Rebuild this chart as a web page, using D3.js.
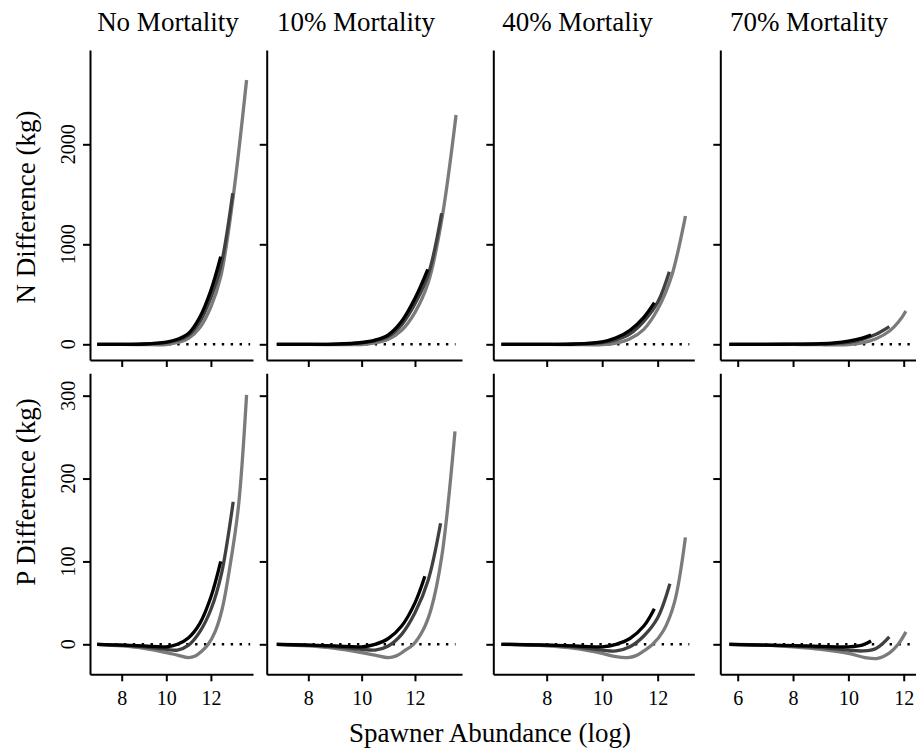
<!DOCTYPE html>
<html>
<head>
<meta charset="utf-8">
<script src="https://cdn.jsdelivr.net/npm/d3@7"></script>
<style>
  html, body { margin: 0; padding: 0; background: #fff; }
  svg { display: block; }
  svg text { font-family: "Liberation Serif", "Times New Roman", "DejaVu Serif", serif; fill: #000; }
</style>
</head>
<body>
<svg id="chart" width="916" height="749"></svg>
<script>
// Column headings (one per mortality scenario)
const panelTitles = ["No Mortality", "10% Mortality", "40% Mortaliy", "70% Mortality"];

// Tick values
const xTicks = [[8, 10, 12], [8, 10, 12], [8, 10, 12], [6, 8, 10, 12]];
const nTicks = [0, 1000, 2000];
const pTicks = [0, 100, 200, 300];

// x extent of each panel (log spawner abundance) and of the zero reference line
const xDomains = [[6.578, 13.888], [6.44, 13.763], [6.076, 13.32], [5.371, 12.444]];
const zeroLine = [[6.9, 13.76], [6.82, 13.52], [6.37, 13.14], [5.7, 12.6]];

// Three curve groups per panel, drawn grey -> dark grey -> black
const curveColors = ["#7b7b7b", "#404040", "#000000"];

// N difference (kg), [log abundance, value] pairs: grey, dark grey, black
const N_NONE = [
  [[6.9,0],[8,-1],[9,-3],[10,-2],[10.5,18],[11,60],[11.5,165],[12,375],[12.44,676],[12.98,1443],[13.6,2643]],
  [[6.9,0],[8,0],[9,2],[10,16],[10.5,40],[11,92],[11.5,225],[12,470],[12.44,776],[12.98,1510]],
  [[6.9,0],[8,0],[9,3],[10,22],[10.5,50],[11,110],[11.5,270],[12,540],[12.44,876]]
];
const N_M10 = [
  [[6.82,0],[8,-1],[9,-3],[10,-2],[10.5,14],[11,50],[11.5,140],[12,320],[12.5,620],[13,1240],[13.54,2293]],
  [[6.82,0],[8,0],[9,2],[10,14],[10.5,34],[11,80],[11.5,195],[12,405],[12.5,700],[13,1310]],
  [[6.82,0],[8,0],[9,2],[10,18],[10.5,42],[11,95],[11.5,230],[12,460],[12.48,750]]
];
const N_M40 = [
  [[6.37,0],[8,-1],[9,-3],[10,-3],[10.5,12],[11,55],[11.5,150],[12,350],[12.5,680],[13,1283]],
  [[6.37,0],[8,0],[9,2],[10,18],[10.5,45],[11,105],[11.5,230],[12,420],[12.42,726]],
  [[6.37,0],[8,0],[9,3],[10,25],[10.5,65],[11,140],[11.5,270],[11.88,416]]
];
const N_M70 = [
  [[5.7,0],[7,0],[8,-1],[9,-4],[9.5,-5],[10,-3],[10.5,15],[11,55],[11.5,135],[11.8,220],[12.08,333]],
  [[5.7,0],[7,0],[8,0],[9,3],[9.5,8],[10,20],[10.5,50],[11,100],[11.48,176]],
  [[5.7,0],[7,0],[8,1],[9,6],[9.5,14],[10,32],[10.5,62],[10.82,93]]
];

// P difference (kg): grey, dark grey, black
const P_NONE = [
  [[6.9,0],[8,-2],[9,-5],[10,-10],[10.5,-13],[11,-16],[11.3,-14],[11.6,-8],[11.88,0],[12.2,16],[12.5,42],[12.83,90],[13.23,165],[13.6,301]],
  [[6.9,0],[8,-1],[9,-3],[10,-6],[10.5,-7],[11,-1],[11.5,15],[12,42],[12.48,86],[13,172]],
  [[6.9,0],[8,-1],[9,-2],[10,-3],[10.5,0],[11,8],[11.5,25],[12,57],[12.44,100]]
];
const P_M10 = [
  [[6.82,0],[8,-2],[9,-5],[10,-10],[10.5,-13],[11,-16],[11.3,-14],[11.6,-8],[11.94,0],[12.3,17],[12.6,42],[13,105],[13.5,257]],
  [[6.82,0],[8,-1],[9,-3],[10,-6],[10.5,-7],[11,-2],[11.5,12],[12,38],[12.5,78],[12.96,146]],
  [[6.82,0],[8,-1],[9,-2],[10,-3],[10.5,0],[11,7],[11.5,22],[12,50],[12.37,82]]
];
const P_M40 = [
  [[6.37,0],[8,-2],[9,-5],[10,-11],[10.5,-15],[10.92,-16],[11.2,-14],[11.5,-8],[11.82,0],[12.2,16],[12.6,50],[13,129]],
  [[6.37,0],[8,-1],[9,-3],[10,-7],[10.5,-8],[11,-3],[11.5,10],[12,32],[12.44,73]],
  [[6.37,0],[8,-1],[9,-2],[10,-3],[10.5,0],[11,7],[11.5,22],[11.88,43]]
];
const P_M70 = [
  [[5.7,0],[7,-1],[8,-3],[9,-6],[10,-11],[10.6,-16],[11.06,-17],[11.5,-10],[11.8,0],[12.08,15]],
  [[5.7,0],[7,-1],[8,-2],[9,-4],[10,-7],[10.52,-8],[11,-5],[11.48,9]],
  [[5.7,0],[7,-1],[8,-1.5],[9,-2.5],[10,-3],[10.5,-1],[10.82,4]]
];

const nPanels = [N_NONE, N_M10, N_M40, N_M70];
const pPanels = [P_NONE, P_M10, P_M40, P_M70];

// ---- layout ----
const FONT = "Liberation Serif, Times New Roman, DejaVu Serif, serif";
const svg = d3.select("#chart");
svg.append("rect").attr("width", 916).attr("height", 749).attr("fill", "#fff");

const colPx = [[90, 253], [266.7, 462], [493.3, 694.3], [720.3, 916]];
const titleX = [168, 356, 577.5, 809];
const rows = [
  { panels: nPanels, ticks: nTicks, domain: [-157, 2943], range: [360, 50], label: "N Difference (kg)", labelY: 207, showX: false },
  { panels: pPanels, ticks: pTicks, domain: [-36.2, 327], range: [674.3, 373.3], label: "P Difference (kg)", labelY: 492, showX: true }
];

rows.forEach((row, r) => {
  const y = d3.scaleLinear().domain(row.domain).range(row.range);

  for (let c = 0; c < 4; c++) {
    const x = d3.scaleLinear().domain(xDomains[c]).range(colPx[c]);
    const line = d3.line().curve(d3.curveCatmullRom.alpha(0.5)).x(d => x(d[0])).y(d => y(d[1]));
    const g = svg.append("g");

    // zero reference line (dotted)
    g.append("path")
      .attr("d", line(zeroLine[c].map(v => [v, 0])))
      .attr("fill", "none").attr("stroke", "#000")
      .attr("stroke-width", 2.4).attr("stroke-dasharray", "2.4 6.5");

    // curves
    row.panels[c].forEach((pts, i) => {
      g.append("path")
        .attr("d", line(pts))
        .attr("fill", "none")
        .attr("stroke", curveColors[i])
        .attr("stroke-width", 3.3)
        .attr("stroke-linecap", "butt");
    });

    // axes
    const yAxis = d3.axisLeft(y).tickValues(row.ticks).tickSize(7).tickSizeOuter(0).tickFormat("");
    const ya = g.append("g").attr("transform", `translate(${colPx[c][0]},0)`).call(yAxis);
    const xAxis = d3.axisBottom(x).tickValues(xTicks[c]).tickSize(7).tickSizeOuter(0).tickPadding(9.5)
      .tickFormat(row.showX ? d3.format("d") : "");
    const xa = g.append("g").attr("transform", `translate(0,${row.range[0]})`).call(xAxis);
    [ya, xa].forEach(a => {
      a.attr("font-family", FONT);
      a.select(".domain").attr("stroke", "#000").attr("stroke-width", 2);
      a.selectAll(".tick line").attr("stroke", "#000").attr("stroke-width", 2);
    });
    xa.selectAll(".tick text")
      .attr("font-size", 20).attr("fill", "#000")
      .attr("font-family", FONT);

    // y tick labels on the first column, rotated as in base graphics
    if (c === 0) {
      g.selectAll(".ylab").data(row.ticks).join("text")
        .attr("transform", d => `translate(75,${y(d)}) rotate(-90)`)
        .attr("text-anchor", "middle")
        .attr("font-family", FONT)
        .attr("font-size", 20)
        .text(d => d);
    }

    if (r === 0) {
      svg.append("text")
        .attr("x", titleX[c]).attr("y", 31)
        .attr("text-anchor", "middle")
        .attr("font-family", FONT)
        .attr("font-size", 27)
        .text(panelTitles[c]);
    }
  }

  svg.append("text")
    .attr("transform", `translate(35,${row.labelY}) rotate(-90)`)
    .attr("text-anchor", "middle")
    .attr("font-family", FONT)
    .attr("font-size", 27)
    .text(row.label);
});

svg.append("text")
  .attr("x", 490).attr("y", 742)
  .attr("text-anchor", "middle")
  .attr("font-family", FONT)
  .attr("font-size", 27)
  .text("Spawner Abundance (log)");
</script>
</body>
</html>
